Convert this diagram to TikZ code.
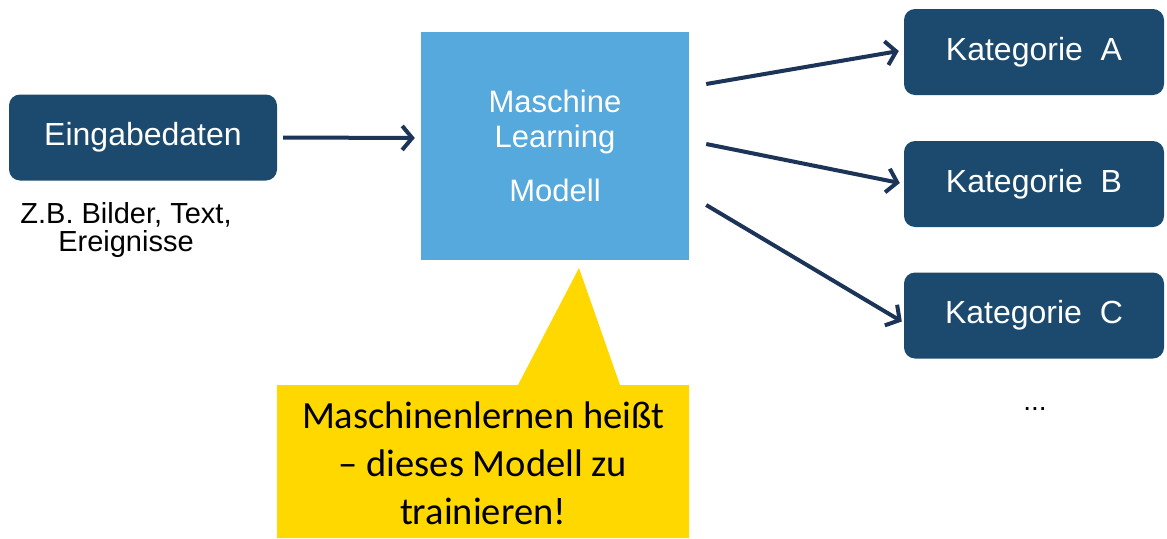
\documentclass[tikz,border=0pt]{standalone}
\usepackage{fontspec}
\setmainfont{Liberation Sans}
\newfontfamily\callfont{Carlito}
\usetikzlibrary{arrows.meta}
\definecolor{boxdark}{HTML}{1B4A6E}
\definecolor{arrowdark}{HTML}{1C3457}
\definecolor{mlblue}{HTML}{56A9DD}
\definecolor{calloutyellow}{HTML}{FFD800}
\begin{document}
\begin{tikzpicture}[x=1pt,y=-1pt,
  darkbox/.style={draw=none,fill=boxdark,rounded corners=11pt,minimum width=268pt,minimum height=86pt,inner sep=0pt,text=white,font=\fontsize{32}{36}\selectfont},
  katbox/.style={darkbox,minimum width=260pt},
  arr/.style={draw=arrowdark,line width=4pt,-{Straight Barb[length=10pt,width=24pt,line width=4pt]}},
  note/.style={text=black,font=\fontsize{29}{28}\selectfont,align=center,inner sep=0pt}
]
\useasboundingbox (0,0) rectangle (1167,538);
% input
\node[darkbox] (in) at (143,137.5) {Eingabedaten};
\node[note] (ex) at (126,230) {Z.B. Bilder, Text,\\Ereignisse};
% model
\node[fill=mlblue,minimum width=268pt,minimum height=228pt,inner sep=0pt,text=white,align=center,
  font=\fontsize{31}{35}\selectfont] (ml) at (555,146) {Maschine\\Learning\\[19pt]Modell};
% categories
\node[katbox] (ka) at (1034,52) {Kategorie\ \ A};
\node[katbox] (kb) at (1034,184) {Kategorie\ \ B};
\node[katbox] (kc) at (1034,315.5) {Kategorie\ \ C};
\node[text=black,font=\fontsize{28}{28}\selectfont] (dots) at (1035,409) {...};
% arrows
\draw[arr] ([xshift=6pt]in.east) -- ([shift={(-6,0.5)}]ml.west |- in.east);
\draw[arr] ([shift={(17,-62)}]ml.east) -- ([shift={(-5,-1)}]ka.west);
\draw[arr] ([shift={(17,-2)}]ml.east) -- ([shift={(-4,-1)}]kb.west);
\draw[arr] ([shift={(17,59)}]ml.east) -- ([shift={(-2,6)}]kc.west);
% callout
\fill[calloutyellow] (277,385) -- (518,385) -- (579,268) -- (620,385) -- (689,385) -- (689,538) -- (277,538) -- cycle;
\node[text=black,align=center,font=\callfont\fontsize{38.5}{48}\selectfont,inner sep=0pt] (call) at (483,463) {Maschinenlernen heißt\\– dieses Modell zu\\trainieren!};
\end{tikzpicture}
\end{document}
